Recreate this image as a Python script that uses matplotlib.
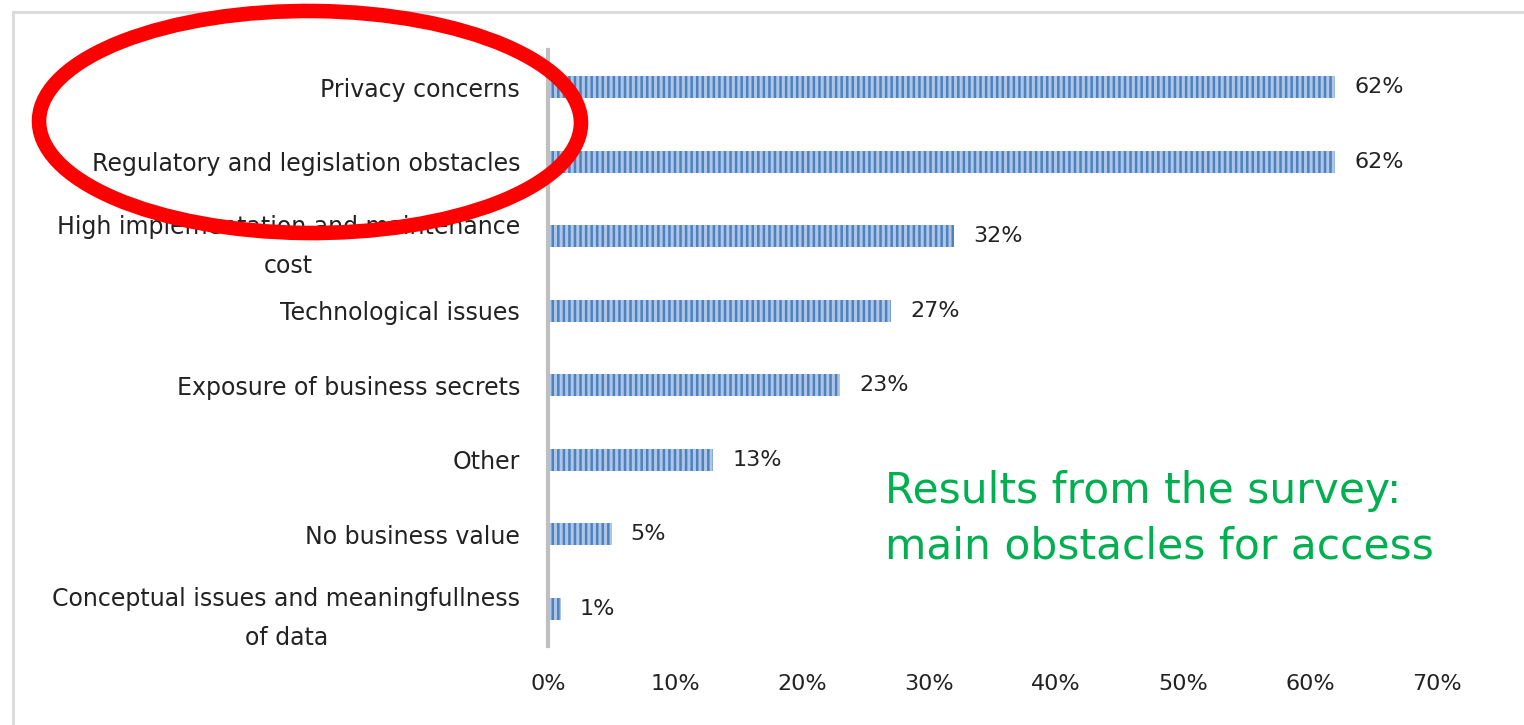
import matplotlib.pyplot as plt
from matplotlib.patches import Ellipse
from matplotlib.lines import Line2D
from matplotlib.ticker import FuncFormatter

plt.rcParams['hatch.linewidth'] = 1.8

# data (top to bottom)
categories = [
    "Privacy concerns",
    "Regulatory and legislation obstacles",
    "High implementation and maintenance\ncost",
    "Technological issues",
    "Exposure of business secrets",
    "Other",
    "No business value",
    "Conceptual issues and meaningfullness\nof data",
]
values = [62, 62, 32, 27, 23, 13, 5, 1]
value_labels = ["62%", "62%", "32%", "27%", "23%", "13%", "5%", "1%"]
xticks = [0, 10, 20, 30, 40, 50, 60, 70]

fig = plt.figure(figsize=(15.24, 7.25), dpi=100)
ax = fig.add_axes([548 / 1524, 1 - 646 / 725, (1437 - 548) / 1524, (646 - 50) / 725])

ypos = list(range(len(categories)))
ax.barh(ypos, values, height=0.3, color='#adc6e8', edgecolor='#4f81bd',
        hatch='|||', linewidth=0)

for y, v, lab in zip(ypos, values, value_labels):
    ax.text(v + 1.5, y, lab, va='center', ha='left', fontsize=16, color='#222222')

ax.set_ylim(len(categories) - 0.5, -0.5)
ax.set_xlim(0, 70)
ax.set_yticks(ypos)
ax.set_yticklabels(categories, fontsize=17, color='#222222', multialignment='center',
                   linespacing=1.8)
ax.set_xticks(xticks)
ax.xaxis.set_major_formatter(FuncFormatter(lambda x, p: f"{x:.0f}%"))
ax.tick_params(axis='x', length=0, labelsize=16, labelcolor='#222222', pad=20)
ax.tick_params(axis='y', length=0, pad=20)

for s in ['top', 'right', 'bottom']:
    ax.spines[s].set_visible(False)
ax.spines['left'].set_color('#bfbfbf')
ax.spines['left'].set_linewidth(3)

# annotation text
fig.text(885 / 1524, 1 - 519 / 725, "Results from the survey:\nmain obstacles for access",
         fontsize=30.5, color='#00b050', ha='left', va='center', linespacing=1.4)

# light frame on the left and top
fig.add_artist(Line2D([13 / 1524, 13 / 1524], [0, 1 - 12 / 725], transform=fig.transFigure,
                      color='#d9d9d9', lw=2))
fig.add_artist(Line2D([13 / 1524, 1], [1 - 12 / 725, 1 - 12 / 725], transform=fig.transFigure,
                      color='#d9d9d9', lw=2))

# red highlight ellipse
fig.add_artist(Ellipse((310 / 1524, 1 - 122 / 725), 542 / 1524, 222 / 725, angle=-1.5,
                       transform=fig.transFigure, fill=False, edgecolor='#ff0000', lw=10.5,
                       zorder=10))

fig.savefig('out.png', dpi=100)
